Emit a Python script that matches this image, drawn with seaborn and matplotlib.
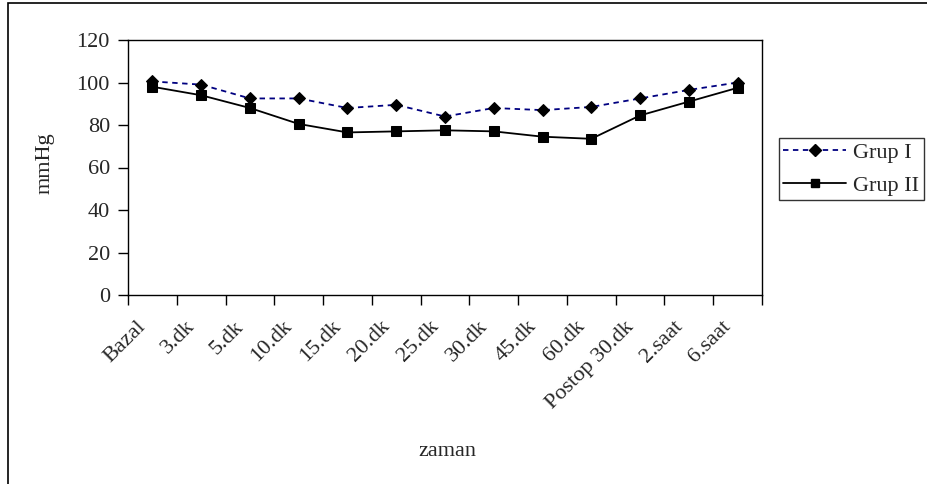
import matplotlib
matplotlib.use("Agg")
import matplotlib.pyplot as plt
import matplotlib.transforms as mtransforms
import seaborn as sns
import pandas as pd
import numpy as np
from matplotlib.patches import Rectangle
from matplotlib.lines import Line2D

categories = ["Bazal", "3.dk", "5.dk", "10.dk", "15.dk", "20.dk", "25.dk",
              "30.dk", "45.dk", "60.dk", "Postop 30.dk", "2.saat", "6.saat"]
grup1 = [100.5, 99, 92.5, 92.5, 88, 89.5, 84, 88, 87, 88.5, 92.5, 96.5, 100]
grup2 = [98, 94, 88, 80.5, 76.5, 77, 77.5, 77, 74.5, 73.5, 84.5, 91, 97.5]
series_names = ["Grup I", "Grup II"]
yticks = [0, 20, 40, 60, 80, 100, 120]

df = pd.DataFrame({
    "zaman": categories * 2,
    "mmHg": grup1 + grup2,
    "grup": [series_names[0]] * len(categories) + [series_names[1]] * len(categories),
})
df["pos"] = np.tile(np.arange(len(categories)), 2)

sns.set_style("white")
plt.rcParams["font.family"] = ["Liberation Serif", "DejaVu Serif"]
FS = 16

W, H = 928, 484
fig = plt.figure(figsize=(W / 100, H / 100), dpi=100)
ax = fig.add_axes([128 / W, 1 - 295 / H, (762 - 128) / W, (295 - 40) / H])

sns.lineplot(data=df, x="pos", y="mmHg", hue="grup", style="grup",
             palette={"Grup I": "#000080", "Grup II": "black"},
             dashes={"Grup I": (3, 2.5), "Grup II": ""},
             markers={"Grup I": "D", "Grup II": "s"},
             markersize=7, markeredgecolor="black", linewidth=1.3,
             legend=False, ax=ax)
for line in ax.lines:
    line.set_markerfacecolor("black")
    line.set_markeredgecolor("black")
    line.set_markersize(6.5)

n = len(categories)
ax.set_xlim(-0.5, n - 0.5)
ax.set_ylim(0, 120)
ax.set_xticks(np.arange(-0.5, n, 1.0))
ax.set_xticklabels([])
ax.set_xticks(np.arange(n), minor=True)
ax.set_xticklabels(categories, minor=True, rotation=45, ha="right",
                   rotation_mode="anchor", fontsize=FS)
ax.tick_params(axis="x", which="major", direction="out", length=7, width=1,
               color="black", bottom=True)
ax.tick_params(axis="x", which="minor", length=0, pad=16)
ax.set_yticks(yticks)
ax.set_yticklabels([str(v) for v in yticks], fontsize=FS)
ax.tick_params(axis="y", direction="out", length=7, width=1, color="black",
               left=True, pad=6)
for s in ax.spines.values():
    s.set_visible(True)
    s.set_color("black")
    s.set_linewidth(1)
ax.set_xlabel("")
ax.set_ylabel("")

offset = mtransforms.ScaledTranslation(-16 / 100, 0, fig.dpi_scale_trans)
for lab in ax.get_xticklabels(minor=True):
    lab.set_transform(lab.get_transform() + offset)

fig.text(45 / W, 1 - 163 / H, "mmHg", rotation=90, ha="center", va="center",
         fontsize=FS)
fig.text(447 / W, 1 - 451 / H, "zaman", ha="center", va="center", fontsize=FS)

handles = [
    Line2D([], [], color="#000080", linestyle=(0, (3, 2.5)), linewidth=1.3,
           marker="D", markersize=6, markerfacecolor="black",
           markeredgecolor="black"),
    Line2D([], [], color="black", linestyle="-", linewidth=1.3,
           marker="s", markersize=6, markerfacecolor="black",
           markeredgecolor="black"),
]
leg = fig.legend(handles, series_names, loc="upper left",
                 bbox_to_anchor=(779 / W, 1 - 138 / H),
                 fontsize=FS, frameon=True, fancybox=False, shadow=False,
                 handlelength=2.8, handletextpad=0.35, borderpad=0.2,
                 labelspacing=0.55, borderaxespad=0)
leg.get_frame().set_edgecolor("black")
leg.get_frame().set_linewidth(1)

fig.patches.append(Rectangle((8 / W, -0.05), 1.2, 1 - 3 / H + 0.05,
                             transform=fig.transFigure, fill=False,
                             edgecolor="black", linewidth=1.2, clip_on=False))

fig.savefig("out.png", dpi=100)
